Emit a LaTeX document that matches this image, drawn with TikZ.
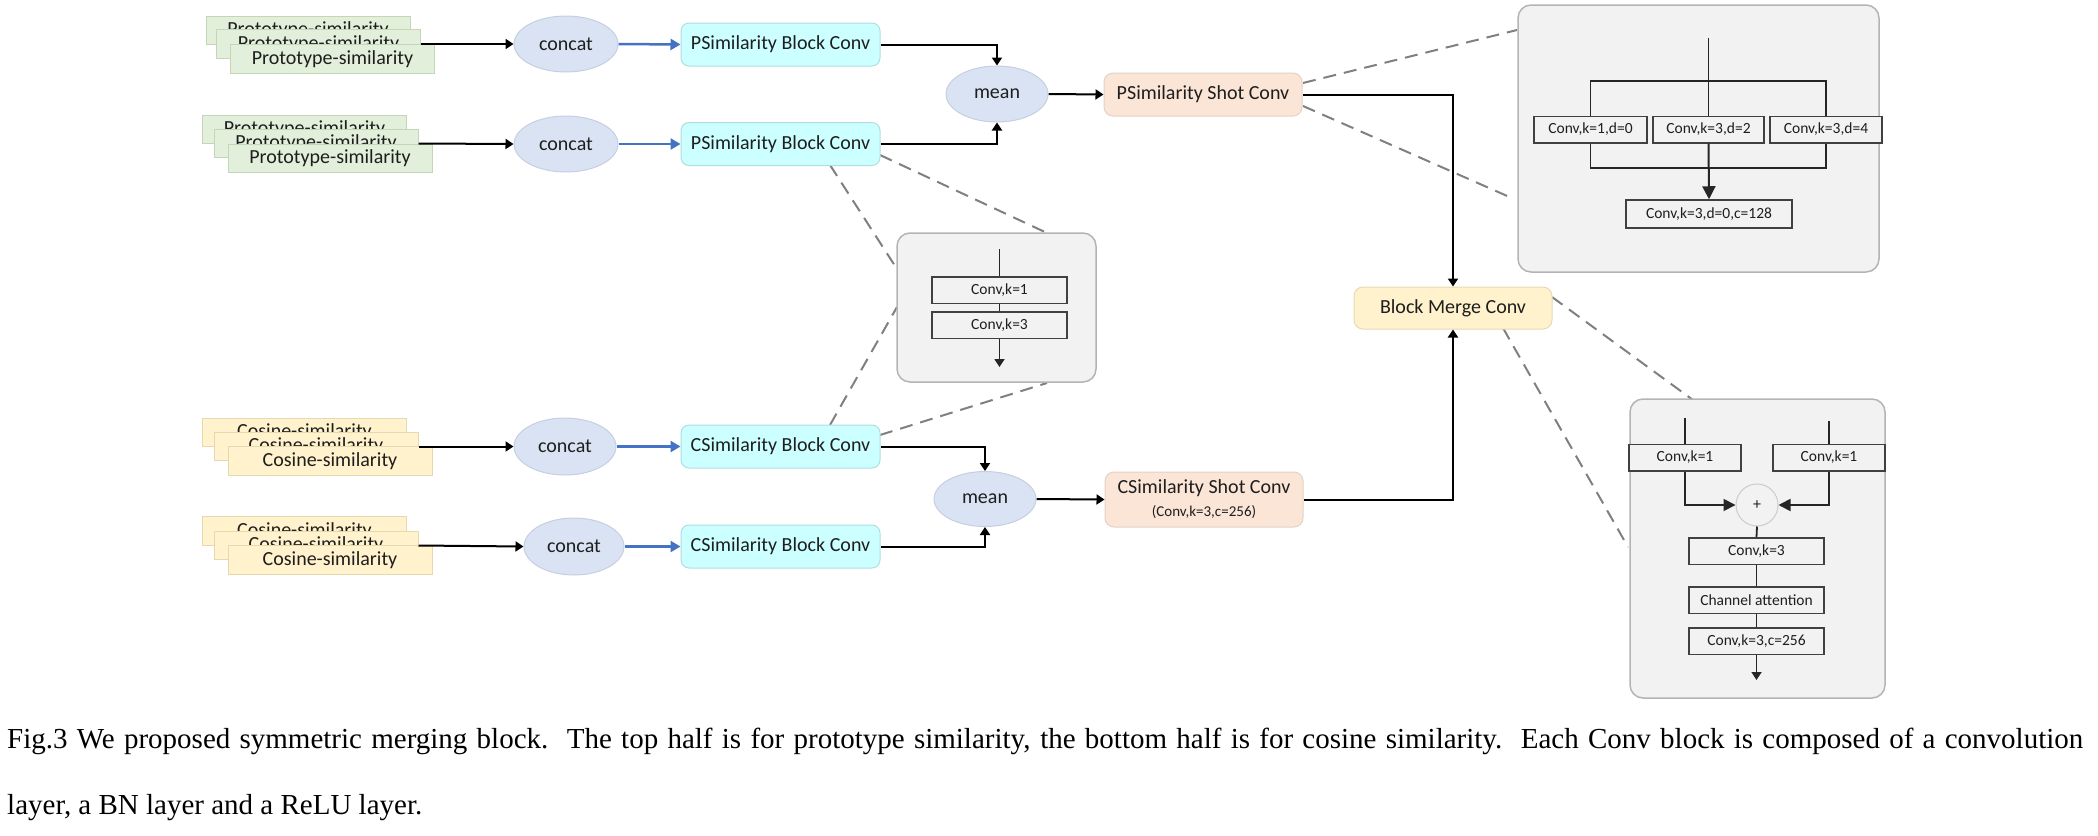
\documentclass[tikz,border=0pt]{standalone}
\usepackage{fontspec}
\setmainfont{Carlito}
\newfontfamily\capfont{Liberation Serif}
\usetikzlibrary{arrows.meta,shapes.geometric}
\definecolor{pgreen}{HTML}{E2EFDA}
\definecolor{pgreenb}{HTML}{C5D6B8}
\definecolor{cyel}{HTML}{FFF2CC}
\definecolor{cyelb}{HTML}{E6D9AE}
\definecolor{ellf}{HTML}{DAE3F3}
\definecolor{ellb}{HTML}{C6CFDF}
\definecolor{cyanf}{HTML}{CCFFFF}
\definecolor{cyanb}{HTML}{B0DDE0}
\definecolor{peach}{HTML}{FBE5D6}
\definecolor{peachb}{HTML}{E3D2C6}
\definecolor{mergeb}{HTML}{E6D9B4}
\definecolor{insetf}{HTML}{F2F2F2}
\definecolor{insetb}{HTML}{B4B4B4}
\definecolor{arrblue}{HTML}{4472C4}
\definecolor{dashg}{HTML}{808080}
\definecolor{txt}{HTML}{1E1E1E}
\begin{document}
\begin{tikzpicture}[x=1pt,y=-1pt,
  every node/.style={text=txt},
  stackbox/.style={draw=#1, line width=1pt, minimum width=204pt, minimum height=28.5pt, inner sep=0pt, font=\fontsize{20}{24}\selectfont},
  ellnode/.style={ellipse, draw=ellb, fill=ellf, line width=1pt, inner sep=0pt, font=\fontsize{20}{24}\selectfont},
  blockbox/.style={draw=cyanb, fill=cyanf, rounded corners=8pt, line width=1pt, minimum width=199pt, minimum height=43pt, inner sep=0pt, font=\fontsize{20}{24}\selectfont},
  shotbox/.style={draw=peachb, fill=peach, rounded corners=9pt, line width=1pt, minimum width=198pt, inner sep=0pt, font=\fontsize{20}{24}\selectfont, align=center},
  insetbox/.style={draw=insetb, fill=insetf, rounded corners=13pt, line width=1.5pt, inner sep=0pt},
  inbox/.style={draw=black!75, fill=insetf, line width=1.5pt, inner sep=0pt, minimum height=26.5pt, font=\fontsize{15.5}{18}\selectfont},
  arr/.style={draw=black, line width=2pt, -{Triangle[length=8pt,width=10pt]}},
  barr/.style={draw=arrblue, line width=2.5pt, -{Triangle[length=10pt,width=11pt]}},
  iline/.style={draw=black!85, line width=1.8pt},
  iarr/.style={draw=black!85, line width=1.8pt, -{Triangle[length=8pt,width=10pt]}},
  dline/.style={draw=dashg, line width=2pt, dash pattern=on 13pt off 8pt}
]
\useasboundingbox (0,0) rectangle (2098,835);

% ---------- dashed connectors (behind) ----------
\coordinate (d1a) at (830,165);  \coordinate (d1b) at (897,269);
\coordinate (d2a) at (880,155);  \coordinate (d2b) at (1047,233);
\coordinate (d3a) at (830,425);  \coordinate (d3b) at (897,307);
\coordinate (d4a) at (880,435);  \coordinate (d4b) at (1047,383);
\coordinate (d5a) at (1303,83);  \coordinate (d5b) at (1517,30);
\coordinate (d6a) at (1303,106); \coordinate (d6b) at (1514,199);
\coordinate (d7a) at (1552,297); \coordinate (d7b) at (1693,400);
\coordinate (d8a) at (1503,328); \coordinate (d8b) at (1628,547);
\draw[dline] (d1a) -- (d1b);
\draw[dline] (d2a) -- (d2b);
\draw[dline] (d3a) -- (d3b);
\draw[dline] (d4a) -- (d4b);
\draw[dline] (d5a) -- (d5b);
\draw[dline] (d6a) -- (d6b);
\draw[dline] (d7a) -- (d7b);
\draw[dline] (d8a) -- (d8b);

% ---------- input stacks ----------
\node[stackbox=pgreenb, fill=pgreen] (s1a) at (308,30.5) {Prototype-similarity};
\node[stackbox=pgreenb, fill=pgreen] (s1b) at (318.5,44) {Prototype-similarity};
\node[stackbox=pgreenb, fill=pgreen] (s1c) at (332.5,59) {Prototype-similarity};

\node[stackbox=pgreenb, fill=pgreen] (s2a) at (304.5,129.5) {Prototype-similarity};
\node[stackbox=pgreenb, fill=pgreen] (s2b) at (316,143.5) {Prototype-similarity};
\node[stackbox=pgreenb, fill=pgreen] (s2c) at (330,158.5) {Prototype-similarity};

\node[stackbox=cyelb, fill=cyel] (s3a) at (304.5,432.5) {Cosine-similarity};
\node[stackbox=cyelb, fill=cyel] (s3b) at (316,446.5) {Cosine-similarity};
\node[stackbox=cyelb, fill=cyel] (s3c) at (330,461) {Cosine-similarity};

\node[stackbox=cyelb, fill=cyel] (s4a) at (304.5,531) {Cosine-similarity};
\node[stackbox=cyelb, fill=cyel] (s4b) at (316,545.5) {Cosine-similarity};
\node[stackbox=cyelb, fill=cyel] (s4c) at (330,560) {Cosine-similarity};

% ---------- concat ----------
\node[ellnode, minimum width=104pt, minimum height=56pt] (c1) at (566,44) {concat};
\node[ellnode, minimum width=104pt, minimum height=56pt] (c2) at (566,144) {concat};
\node[ellnode, minimum width=102pt, minimum height=57pt] (c3) at (565,446.5) {concat};
\node[ellnode, minimum width=100pt, minimum height=57pt] (c4) at (574,546.5) {concat};

% ---------- block convs ----------
\node[blockbox] (b1) at (780.5,44.5) {PSimilarity Block Conv};
\node[blockbox] (b2) at (780.5,144) {PSimilarity Block Conv};
\node[blockbox] (b3) at (780.5,446.5) {CSimilarity Block Conv};
\node[blockbox] (b4) at (780.5,546.5) {CSimilarity Block Conv};

% ---------- mean ----------
\node[ellnode, minimum width=102pt, minimum height=56pt] (m1) at (997,94) {mean};
\node[ellnode, minimum width=102pt, minimum height=55pt] (m2) at (985,499) {mean};

% ---------- shot convs and merge ----------
\node[shotbox, minimum height=43pt] (ps) at (1203,94.5) {PSimilarity Shot Conv};
\node[shotbox, minimum height=55pt] (cs) at (1204,499.5) {CSimilarity Shot Conv\\[-1pt]{\fontsize{15}{17}\selectfont (Conv,k=3,c=256)}};
\node[draw=mergeb, fill=cyel, rounded corners=9pt, line width=1pt, minimum width=198pt, minimum height=42pt, inner sep=0pt, font=\fontsize{20}{24}\selectfont] (mg) at (1453,308) {Block Merge Conv};

% ---------- main connectors ----------
\draw[arr] (s1b.east) -- (c1.west);
\draw[arr] (s2b.east) -- (c2.west);
\draw[arr] (s3b.east) -- (c3.west);
\draw[arr] (s4b.east) -- (c4.west);
\draw[barr] (c1.east) -- (b1.west);
\draw[barr] (c2.east) -- (b2.west);
\draw[barr] (c3.east) -- (b3.west);
\draw[barr] (c4.east) -- (b4.west);
\draw[arr] (b1.east) -| (m1.north);
\draw[arr] (b2.east) -| (m1.south);
\draw[arr] (b3.east) -| (m2.north);
\draw[arr] (b4.east) -| (m2.south);
\draw[arr] (m1.east) -- (ps.west);
\draw[arr] (m2.east) -- (cs.west);
\draw[arr] (ps.east) -| (mg.north);
\draw[arr] (cs.east) -| (mg.south);

% ---------- small inset (block conv) ----------
\node[insetbox, minimum width=199pt, minimum height=149pt] (ins1) at (996.5,307.5) {};
\node[inbox, minimum width=135pt] (sb1) at (999.5,290) {Conv,k=1};
\node[inbox, minimum width=135pt] (sb2) at (999.5,325) {Conv,k=3};
\coordinate (sin) at (999.5,249);
\coordinate (sout) at (999.5,367);
\draw[iline] (sin) -- (sb1.north);
\draw[iline] (sb1.south) -- (sb2.north);
\draw[iarr] (sb2.south) -- (sout);

% ---------- big inset (shot conv) ----------
\node[insetbox, minimum width=361pt, minimum height=267pt] (ins2) at (1698.5,138.5) {};
\node[inbox, minimum width=113pt] (bb1) at (1590.5,129.5) {Conv,k=1,d=0};
\node[inbox, minimum width=111pt] (bb2) at (1708.5,129.5) {Conv,k=3,d=2};
\node[inbox, minimum width=112pt] (bb3) at (1826,129.5) {Conv,k=3,d=4};
\node[inbox, minimum width=166pt, minimum height=28pt] (bb4) at (1709,214) {Conv,k=3,d=0,c=128};
\coordinate (btop) at (1708.5,38);
\coordinate (bsplit) at (1708.5,81);
\coordinate (bjoin) at (1708.5,168);
\draw[iline] (btop) -- (bb2.north);
\draw[iline] (bb1.north) |- (bsplit) -| (bb3.north);
\draw[iline] (bb1.south) |- (bjoin) -| (bb3.south);
\draw[draw=black!85, line width=2pt, -{Triangle[length=13pt,width=13pt]}] (bb2.south) -- (bb4.north);

% ---------- right inset (merge conv) ----------
\node[insetbox, minimum width=255pt, minimum height=299pt] (ins3) at (1757.5,548.5) {};
\node[inbox, minimum width=112pt] (ra) at (1685,457.5) {Conv,k=1};
\node[inbox, minimum width=112pt] (rb) at (1829,457.5) {Conv,k=1};
\node[circle, draw=black!20, fill=insetf, line width=1pt, minimum size=42pt, inner sep=0pt, font=\fontsize{16}{18}\selectfont] (pl) at (1757,505) {+};
\node[inbox, minimum width=135pt] (rc) at (1756.5,551) {Conv,k=3};
\node[inbox, minimum width=135pt] (rd) at (1756.5,600) {Channel attention};
\node[inbox, minimum width=135pt] (re) at (1756.5,641) {Conv,k=3,c=256};
\coordinate (rain) at (1685,418);
\coordinate (rbin) at (1829,421);
\coordinate (rout) at (1756.5,680);
\draw[iline] (rain) -- (ra.north);
\draw[iline] (rbin) -- (rb.north);
\draw[draw=black!85, line width=1.8pt, -{Triangle[length=12pt,width=12pt]}] (ra.south) |- (pl.west);
\draw[draw=black!85, line width=1.8pt, -{Triangle[length=12pt,width=12pt]}] (rb.south) |- (pl.east);
\draw[iline] (pl.south) -- (rc.north);
\draw[iline] (rc.south) -- (rd.north);
\draw[iline] (rd.south) -- (re.north);
\draw[iarr] (re.south) -- (rout);

% ---------- caption ----------
\node[anchor=base west, inner sep=0pt, text=black, font=\capfont\fontsize{29}{34}\selectfont] (cap1) at (7,748)
  {\makebox[2076pt][s]{Fig.3 We proposed symmetric merging block.\ \ The top half is for prototype similarity, the bottom half is for cosine similarity.\ \ Each Conv block is composed of a convolution}};
\node[anchor=base west, inner sep=0pt, text=black, font=\capfont\fontsize{29}{34}\selectfont] (cap2) at (7,814)
  {layer, a BN layer and a ReLU layer.};
\end{tikzpicture}
\end{document}
